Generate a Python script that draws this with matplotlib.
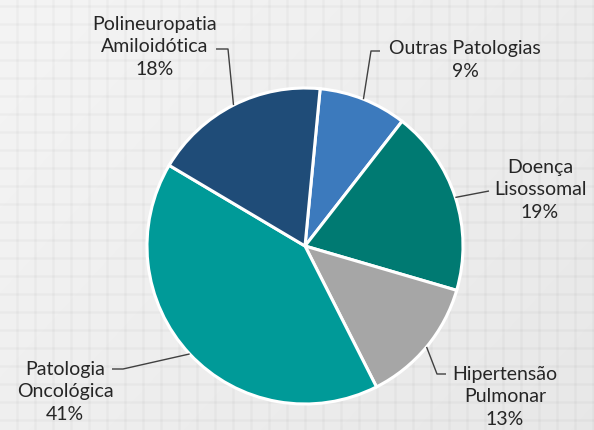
import numpy as np
import matplotlib
matplotlib.use("Agg")
import matplotlib.pyplot as plt

# dados
labels = ["Outras Patologias", "Doença\nLisossomal", "Hipertensão\nPulmonar",
          "Patologia\nOncológica", "Polineuropatia\nAmiloidótica"]
shares = [9, 19, 13, 41, 18]
colors = ["#3c7abd", "#007a72", "#a6a6a6", "#009a98", "#1f4c78"]

plt.rcParams['font.family'] = ['Lato', 'DejaVu Sans']

W, H = 594, 431
fig = plt.figure(figsize=(W / 100, H / 100), dpi=100)
ax = fig.add_axes([0, 0, 1, 1])
ax.set_xlim(0, W)
ax.set_ylim(H, 0)
ax.axis("off")

# fundo quadriculado com leve gradiente
yy, xx = np.mgrid[0:H, 0:W]
bg = 0.955 - 0.05 * ((xx / W) * 0.6 + (yy / H) * 0.4)
ax.imshow(bg, cmap="gray", vmin=0, vmax=1, extent=(0, W, H, 0), zorder=0)
for gx in np.arange(17, W, 18):
    ax.axvline(gx, color="#000000", alpha=0.028, lw=1.8, zorder=1)
for gy in np.arange(7, H, 18):
    ax.axhline(gy, color="#000000", alpha=0.028, lw=1.8, zorder=1)

cx, cy, r = 305, 247, 158
wedges, _ = ax.pie(shares, colors=colors, startangle=-84.5, counterclock=True,
                   center=(cx, cy), radius=r, frame=True,
                   wedgeprops=dict(edgecolor="white", linewidth=2.2))
# eixo y invertido: counterclock nos dados = sentido horário no ecrã
for w in wedges:
    w.set_zorder(3)

# posições dos rótulos (px) e cotovelos das linhas
txt_pos = [(465, 60), (540, 190), (505, 397), (65, 392), (155, 47)]
elbows = [[(380, 52), (371, 52)],
          [(489, 192)],
          [(446, 375), (437, 375)],
          [(112, 370), (123, 370)],
          [(216, 50), (228, 50)]]

for w, lab, s, (tx, ty), el in zip(wedges, labels, shares, txt_pos, elbows):
    ang = np.deg2rad((w.theta1 + w.theta2) / 2)
    ex, ey = cx + r * np.cos(ang), cy + r * np.sin(ang)
    pts = el + [(ex, ey)]
    ax.plot([p[0] for p in pts], [p[1] for p in pts], color="#404040",
            lw=1.0, zorder=4, solid_capstyle="butt")
    ax.text(tx, ty, f"{lab}\n{s}%", ha="center", va="center",
            fontsize=14, color="#262626", linespacing=1.36, zorder=5)

ax.set_xlim(0, W)
ax.set_ylim(H, 0)
ax.set_aspect("auto")
fig.savefig("out.png", dpi=100)
